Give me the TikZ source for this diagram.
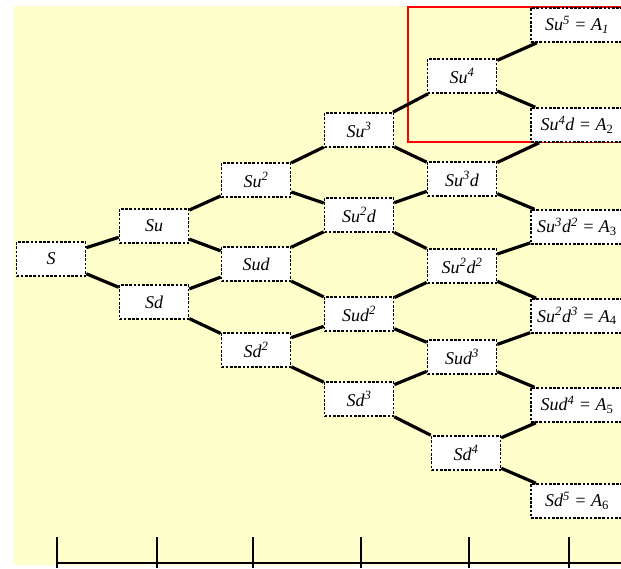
\documentclass[tikz,border=0pt]{standalone}
\usepackage{fontspec}
\setmainfont{Liberation Serif}
\definecolor{paper}{HTML}{FFFFCC}

\begin{document}
\begin{tikzpicture}[
	x=1pt, y=-1pt,
	link/.style={line width=3.2pt, draw=black},
	every node/.style={font=\fontsize{18}{20}\selectfont\itshape}]

\tikzstyle{price} = [
    draw, fill = white,
    line width = 1.6pt,
    dash pattern = on 2.6pt off 1.6pt,
    minimum width = 69pt,
    minimum height = 34pt,
    inner sep = 0pt
]
\tikzstyle{payoff} = [
    price,
    minimum width = 92pt
]

\useasboundingbox (0,0) rectangle (621,568);
\fill [paper] (14,6) rectangle (621,565);

% highlighted corner
\draw [red, line width=2pt] (408,7) rectangle (630,142);

% lattice
\node [price] (n00) at (51,259) {S};
\node [price] (n10) at (154,226) {Su};
\node [price] (n11) at (154,302) {Sd};
\node [price] (n20) at (256,180) {Su\textsuperscript{2}};
\node [price] (n21) at (256,264) {Sud};
\node [price] (n22) at (256,350) {Sd\textsuperscript{2}};
\node [price] (n30) at (359,130) {Su\textsuperscript{3}};
\node [price] (n31) at (359,215) {Su\textsuperscript{2}d};
\node [price] (n32) at (359,314) {Sud\textsuperscript{2}};
\node [price] (n33) at (359,399) {Sd\textsuperscript{3}};
\node [price] (n40) at (462,76) {Su\textsuperscript{4}};
\node [price] (n41) at (462,179) {Su\textsuperscript{3}d};
\node [price] (n42) at (462,266) {Su\textsuperscript{2}d\textsuperscript{2}};
\node [price] (n43) at (462,357) {Sud\textsuperscript{3}};
\node [price] (n44) at (466,453) {Sd\textsuperscript{4}};
\node [payoff] (n50) at (577,25) {Su\textsuperscript{5} = A\textsubscript{1}};
\node [payoff] (n51) at (577,125) {Su\textsuperscript{4}d = A\textsubscript{\upshape 2}};
\node [payoff] (n52) at (577,227) {Su\textsuperscript{3}d\textsuperscript{2} = A\textsubscript{\upshape 3}};
\node [payoff] (n53) at (577,316) {Su\textsuperscript{2}d\textsuperscript{3} = A\textsubscript{\upshape 4}};
\node [payoff] (n54) at (577,405) {Sud\textsuperscript{4} = A\textsubscript{\upshape 5}};
\node [payoff] (n55) at (577,501) {Sd\textsuperscript{5} = A\textsubscript{\upshape 6}};

\foreach \i in {0,...,4} {
	\pgfmathtruncatemacro\k{\i+1}
	\foreach \j in {0,...,\i} {
		\pgfmathtruncatemacro\m{\j+1}
		\draw [link] (n\i\j) -- (n\k\j);
		\draw [link] (n\i\j) -- (n\k\m);
	}
}

% time axis
\draw [line width=1.8pt] (57,563) -- (621,563);
\foreach \x in {57,157,253,361,469,569}
	\draw [line width=1.4pt] (\x,537) -- (\x,568);
\end{tikzpicture}
\end{document}
